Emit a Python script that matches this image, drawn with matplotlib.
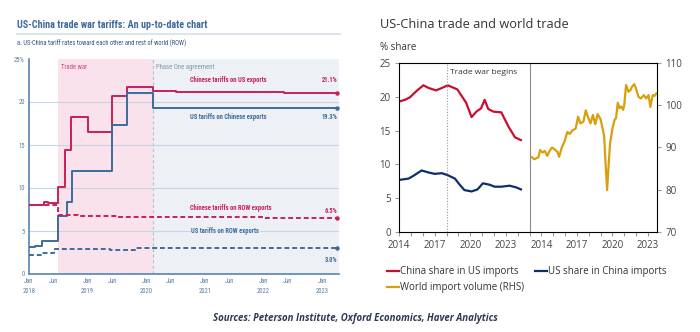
import numpy as np
import matplotlib.pyplot as plt
from matplotlib.lines import Line2D

# ---------------- left panel: tariff step series (decimal years) ----------------
cn_us_dates = [2018.0, 2018.25, 2018.33, 2018.5, 2018.62, 2018.72, 2018.84, 2019.0,
               2019.42, 2019.68, 2020.12, 2020.5, 2022.35, 2023.25]
cn_us_vals = [8.0, 8.4, 8.2, 10.1, 14.4, 18.3, 18.2, 16.5, 20.7, 21.8, 21.3, 21.2, 21.1, 21.1]

us_cn_dates = [2018.0, 2018.1, 2018.23, 2018.5, 2018.65, 2018.74, 2019.42, 2019.68, 2020.12, 2023.25]
us_cn_vals = [3.1, 3.2, 3.8, 6.7, 8.4, 12.0, 17.3, 21.0, 19.3, 19.3]

cn_row_dates = [2018.0, 2018.5, 2018.84, 2019.5, 2022.0, 2023.25]
cn_row_vals = [8.0, 6.9, 6.7, 6.6, 6.5, 6.5]

us_row_dates = [2018.0, 2018.22, 2018.43, 2019.38, 2019.82, 2023.25]
us_row_vals = [2.2, 2.5, 2.9, 2.8, 3.0, 3.0]

trade_war = (2018.5, 2020.12)
left_years = [2018, 2019, 2020, 2021, 2022, 2023]

# ---------------- right panel: trade shares and world import volume ----------------
cn_share_x = [2014.0, 2014.5, 2014.9, 2015.5, 2016.05, 2016.5, 2017.1, 2017.6, 2018.1, 2018.5,
              2018.9, 2019.2, 2019.65, 2020.1, 2020.5, 2020.9, 2021.2, 2021.5, 2021.95, 2022.6,
              2023.2, 2023.75, 2024.25]
cn_share_y = [19.3, 19.55, 19.9, 20.9, 21.7, 21.3, 20.95, 21.3, 21.7, 21.4,
              21.1, 20.3, 19.1, 17.0, 17.8, 18.3, 19.55, 18.2, 17.8, 17.7,
              15.6, 14.0, 13.6]

us_share_x = [2014.0, 2014.8, 2015.2, 2015.9, 2016.5, 2017.0, 2017.6, 2018.1, 2018.7, 2019.1,
              2019.5, 2020.1, 2020.6, 2021.05, 2021.6, 2022.05, 2022.6, 2023.3, 2023.85, 2024.25]
us_share_y = [7.7, 7.9, 8.3, 9.1, 8.8, 8.6, 8.7, 8.4, 7.9, 7.0,
              6.2, 6.0, 6.3, 7.2, 7.0, 6.7, 6.7, 6.85, 6.6, 6.3]

world_x = [2013.2, 2013.4, 2013.75, 2013.9, 2014.1, 2014.3, 2014.5, 2014.7, 2014.9, 2015.1,
           2015.35, 2015.5, 2015.7, 2015.95, 2016.2, 2016.4, 2016.6, 2016.9, 2017.1, 2017.3,
           2017.55, 2017.75, 2017.9, 2018.15, 2018.35, 2018.55, 2018.75, 2019.0, 2019.2, 2019.3,
           2019.45, 2019.55, 2019.65, 2019.8, 2020.0, 2020.2, 2020.3, 2020.45, 2020.6, 2020.75,
           2020.9, 2021.0, 2021.15, 2021.35, 2021.5, 2021.65, 2021.85, 2022.0, 2022.2, 2022.4,
           2022.65, 2022.85, 2023.05, 2023.2, 2023.4, 2023.55, 2023.7]
world_y = [87.7, 87.2, 87.7, 89.4, 88.8, 89.2, 88.0, 89.2, 90.0, 89.6,
           89.0, 87.8, 89.8, 91.4, 93.7, 93.2, 94.0, 94.5, 97.3, 95.7,
           96.1, 98.8, 97.5, 95.7, 97.7, 95.5, 97.9, 96.7, 94.1, 92.6,
           84.7, 79.9, 84.7, 91.0, 94.5, 96.7, 96.9, 100.6, 99.3, 99.7,
           98.9, 100.1, 104.8, 103.2, 103.5, 104.4, 105.0, 103.8, 102.0, 101.6,
           102.4, 101.6, 102.4, 99.6, 102.4, 102.2, 102.8]

right_tick_years = [2014, 2017, 2020, 2023]

# colours and fonts
piie_blue = "#3d6b9a"
piie_red = "#c8205a"
grid_col = "#c7d4e4"
narrow = ["Liberation Sans Narrow", "Roboto Condensed", "DejaVu Sans"]
oe_font = ["Open Sans", "DejaVu Sans"]

fig = plt.figure(figsize=(7, 3.32), dpi=100)

# ======================= left chart =======================
fig.text(17 / 700, 1 - 25 / 332, "US-China trade war tariffs: An up-to-date chart", family=narrow,
         fontstretch="condensed", fontsize=7.3, fontweight="bold", color=piie_blue, va="center")
fig.add_artist(Line2D([17 / 700, 340 / 700], [1 - 34 / 332, 1 - 34 / 332], color="#dde4ee", lw=1.5))
fig.text(17 / 700, 1 - 43 / 332, "a. US-China tariff rates toward each other and rest of world (ROW)",
         family=narrow, fontstretch="condensed", fontsize=4.7, color="#33557a", va="center")

ax = fig.add_axes([29 / 700, 58 / 332, 310 / 700, 215 / 332])
ax.set_xlim(2018.0, 2023.29)
ax.set_ylim(0, 25)
ax.axvspan(trade_war[0], trade_war[1], color="#f9e2eb", lw=0, zorder=0)
ax.axvspan(trade_war[1], 2023.29, color="#edf0f5", lw=0, zorder=0)
ax.axvline(trade_war[1], color="#b3c3d6", lw=0.8, ls=(0, (3, 2)), zorder=1)
for v in [5, 10, 15, 20]:
    ax.axhline(v, color=grid_col, lw=0.8, zorder=1)

ax.plot(cn_us_dates, cn_us_vals, drawstyle="steps-post", color=piie_red, lw=1.4, zorder=3)
ax.plot(us_cn_dates, us_cn_vals, drawstyle="steps-post", color=piie_blue, lw=1.4, zorder=3)
ax.plot(cn_row_dates, cn_row_vals, drawstyle="steps-post", color=piie_red, lw=1.4,
        ls=(0, (2.5, 1.5)), zorder=3)
ax.plot(us_row_dates, us_row_vals, drawstyle="steps-post", color=piie_blue, lw=1.4,
        ls=(0, (2.5, 1.5)), zorder=3)
for dts, vals, c in [(cn_us_dates, cn_us_vals, piie_red), (us_cn_dates, us_cn_vals, piie_blue),
                     (cn_row_dates, cn_row_vals, piie_red), (us_row_dates, us_row_vals, piie_blue)]:
    ax.plot(dts[-1], vals[-1], "o", ms=2.2, color=c, zorder=4)

lab = dict(family=narrow, fontstretch="condensed", fontsize=4.7, fontweight="bold",
           ha="center", va="center")
ax.text(2021.4, 22.6, "Chinese tariffs on US exports", color=piie_red, **lab)
ax.text(2021.4, 18.2, "US tariffs on Chinese exports", color=piie_blue, **lab)
ax.text(2021.45, 7.7, "Chinese tariffs on ROW exports", color=piie_red, **lab)
ax.text(2021.35, 5.0, "US tariffs on ROW exports", color=piie_blue,
        bbox=dict(facecolor="#edf0f5", edgecolor="none", pad=0.6), **lab)
end_lab = dict(family=narrow, fontstretch="condensed", fontsize=4.7, fontweight="bold",
               ha="right", va="center")
ax.text(2023.27, 22.6, f"{cn_us_vals[-1]:.1f}%", color=piie_red, **end_lab)
ax.text(2023.27, 18.2, f"{us_cn_vals[-1]:.1f}%", color=piie_blue, **end_lab)
ax.text(2023.27, 7.3, f"{cn_row_vals[-1]:.1f}%", color=piie_red, **end_lab)
ax.text(2023.27, 1.6, f"{us_row_vals[-1]:.1f}%", color=piie_blue, **end_lab)
ax.text(2018.55, 24.0, "Trade war", family=narrow, fontstretch="condensed", fontsize=4.9,
        color="#cc4f7a", va="center")
ax.text(2020.17, 24.0, "Phase One agreement", family=narrow, fontstretch="condensed", fontsize=4.9,
        color="#8397b0", va="center")

ticks = []
labels = []
for y in left_years:
    ticks += [y, y + 5 / 12]
    labels += [f"Jan\n{y}", "Jun"]
ticks, labels = ticks[:-1], labels[:-1]
ax.set_xticks(ticks)
ax.set_xticklabels(labels, family=narrow, fontstretch="condensed", fontsize=4.8, color="#5b7ea6",
                   linespacing=1.5, va="top")
ax.set_yticks([0, 5, 10, 15, 20, 25])
ax.set_yticklabels(["0", "5", "10", "15", "20", "25%"], family=narrow, fontstretch="condensed",
                   fontsize=4.8, color="#5b7ea6")
ax.tick_params(length=0, pad=3)
for s in ["top", "right"]:
    ax.spines[s].set_visible(False)
for s in ["left", "bottom"]:
    ax.spines[s].set_color("#5884b1")
    ax.spines[s].set_linewidth(1.2)

# ======================= right chart =======================
fig.text(380 / 700, 1 - 24 / 332, "US-China trade and world trade", family=oe_font, fontsize=9.2,
         color="#333333", va="center")
fig.text(380 / 700, 1 - 47 / 332, "% share", family=oe_font, fontsize=7, color="#333333", va="center")

frame = "#5f5f5f"
ax_a = fig.add_axes([399 / 700, 100 / 332, 130.5 / 700, 169 / 332])
ax_b = fig.add_axes([529.5 / 700, 100 / 332, 127.5 / 700, 169 / 332])

ax_a.plot(cn_share_x, cn_share_y, color="#c8102e", lw=1.6)
ax_a.plot(us_share_x, us_share_y, color="#0d2d6c", lw=1.6)
ax_a.axvline(2018.0, color="#9a9a9a", lw=0.8, ls=(0, (1, 1.5)))
ax_a.text(2018.25, 23.6, "Trade war begins", family=oe_font, fontsize=6, color="#333333", va="center")
ax_a.set_xlim(2014, 2024.97)
ax_a.set_ylim(0, 25)
ax_a.set_yticks([0, 5, 10, 15, 20, 25])
ax_a.set_xticks(np.arange(2014, 2025))
ax_a.set_xticklabels([str(y) if y in right_tick_years else "" for y in range(2014, 2025)])
ax_a.spines["right"].set_visible(False)

ax_b.plot(world_x, world_y, color="#d9a00d", lw=1.6)
ax_b.set_xlim(2013, 2023.76)
ax_b.set_ylim(70, 110)
ax_b.set_yticks([70, 80, 90, 100, 110])
ax_b.set_xticks(np.arange(2013, 2024))
ax_b.set_xticklabels([str(y) if y in right_tick_years else "" for y in range(2013, 2024)])
ax_b.yaxis.tick_right()
ax_b.spines["left"].set_linewidth(0.8)
ax_b.spines["left"].set_color("#8a8a8a")

for a in (ax_a, ax_b):
    for s in ["top", "bottom", "left", "right"]:
        if a.spines[s].get_linewidth() != 0.8:
            a.spines[s].set_color(frame)
            a.spines[s].set_linewidth(1.4)
    a.tick_params(axis="x", direction="out", length=3, width=0.8, color="#9a9a9a", pad=3,
                  labelsize=7, labelcolor="#444444")
    a.tick_params(axis="y", direction="out", length=3, width=0.8, color="#9a9a9a", pad=3,
                  labelsize=7, labelcolor="#444444")
    for t in a.get_xticklabels() + a.get_yticklabels():
        t.set_family(oe_font)

# legend order is column-major: China / World in the first column, US in the second
handles = [Line2D([], [], color="#c8102e", lw=1.6), Line2D([], [], color="#d9a00d", lw=1.6),
           Line2D([], [], color="#0d2d6c", lw=1.6)]
names = ["China share in US imports", "World import volume (RHS)", "US share in China imports"]
fig.legend(handles, names, loc="upper left", bbox_to_anchor=(387 / 700, 1 - 266 / 332), ncol=2,
           frameon=False, prop={"family": oe_font, "size": 7}, handlelength=1.2,
           handletextpad=0.1, columnspacing=1.2, labelspacing=0.55, borderpad=0, borderaxespad=0,
           labelcolor="#333333")

fig.text(355 / 700, 1 - 318 / 332, "Sources: Peterson Institute, Oxford Economics, Haver Analytics",
         family=oe_font, fontsize=6.9, fontweight="bold", style="italic", color="#2d3a55",
         ha="center", va="center")

fig.savefig("out.png", dpi=100)
